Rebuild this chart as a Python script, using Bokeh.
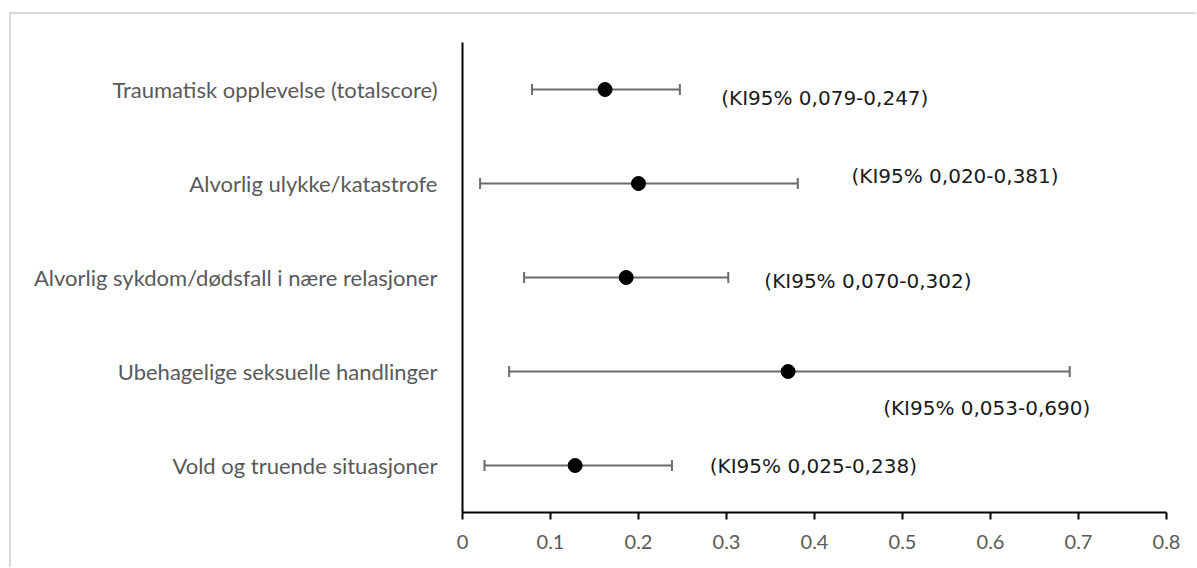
from bokeh.plotting import figure
from bokeh.models import ColumnDataSource, FactorRange, Range1d, FixedTicker, Whisker, TeeHead
from bokeh.core.properties import value
from bokeh.embed import file_html
from bokeh.resources import INLINE

categories = [
    "Traumatisk opplevelse (totalscore)",
    "Alvorlig ulykke/katastrofe",
    "Alvorlig sykdom/dødsfall i nære relasjoner",
    "Ubehagelige seksuelle handlinger",
    "Vold og truende situasjoner",
]
estimate = [0.162, 0.200, 0.186, 0.370, 0.128]
lower = [0.079, 0.020, 0.070, 0.053, 0.025]
upper = [0.247, 0.381, 0.302, 0.690, 0.238]
ci_labels = ["(KI95% 0,079-0,247)", "(KI95% 0,020-0,381)", "(KI95% 0,070-0,302)",
             "(KI95% 0,053-0,690)", "(KI95% 0,025-0,238)"]
x_ticks = [0, 0.1, 0.2, 0.3, 0.4, 0.5, 0.6, 0.7, 0.8]

# label placement (manual, as in the original)
label_x = [0.294, 0.442, 0.343, 0.478, 0.281]
label_dy = [8, -8, 3, 36, 0]

src = ColumnDataSource(dict(cat=categories, est=estimate, lo=lower, hi=upper,
                            lab=ci_labels, lx=label_x, dy=label_dy))

p = figure(
    y_range=FactorRange(factors=list(reversed(categories))),
    x_range=Range1d(0, 0.8),
    frame_width=704, frame_height=470,
    min_border_left=451, min_border_top=28, min_border_right=30, min_border_bottom=55,
    output_backend="svg", toolbar_location=None,
)
p.margin = (12, 0, 0, 9)
p.styles = {"border-left": "2px solid #d9d9d9", "border-top": "2px solid #d9d9d9"}
p.outline_line_color = None
p.xgrid.grid_line_color = None
p.ygrid.grid_line_color = None
p.background_fill_color = "white"
p.border_fill_color = "white"

# axes
p.xaxis.ticker = FixedTicker(ticks=x_ticks)
p.xaxis.major_label_overrides = {t: ("0" if t == 0 else str(t)) for t in x_ticks}
p.xaxis.axis_line_color = "black"
p.xaxis.axis_line_width = 2
p.xaxis.major_tick_line_color = "black"
p.xaxis.major_tick_line_width = 2
p.xaxis.major_tick_in = 0
p.xaxis.major_tick_out = 7
p.xaxis.minor_tick_line_color = None
p.xaxis.major_label_text_font = "Lato"
p.xaxis.major_label_text_font_size = "20px"
p.xaxis.major_label_text_color = "#595959"
p.xaxis.major_label_standoff = 15

p.yaxis.axis_line_color = "black"
p.yaxis.axis_line_width = 2
p.yaxis.major_tick_line_color = None
p.yaxis.minor_tick_line_color = None
p.yaxis.major_label_text_font = "Lato"
p.yaxis.major_label_text_font_size = "22px"
p.yaxis.major_label_text_color = "#595959"
p.yaxis.major_label_standoff = 19

# error bars
wh = Whisker(source=src, base="cat", lower="lo", upper="hi", dimension="width",
             line_color="#6b6b6b", line_width=2,
             lower_head=TeeHead(size=11, line_color="#6b6b6b", line_width=2),
             upper_head=TeeHead(size=11, line_color="#6b6b6b", line_width=2))
p.add_layout(wh)

p.scatter(x="est", y="cat", source=src, size=14, fill_color="black", line_color="black")

p.text(x="lx", y="cat", text="lab", source=src, y_offset="dy",
       text_font=value("DejaVu Sans"), text_font_size="20px", text_color="#1a1a1a",
       text_align="left", text_baseline="middle")

open("out.html", "w").write(file_html(p, INLINE))
